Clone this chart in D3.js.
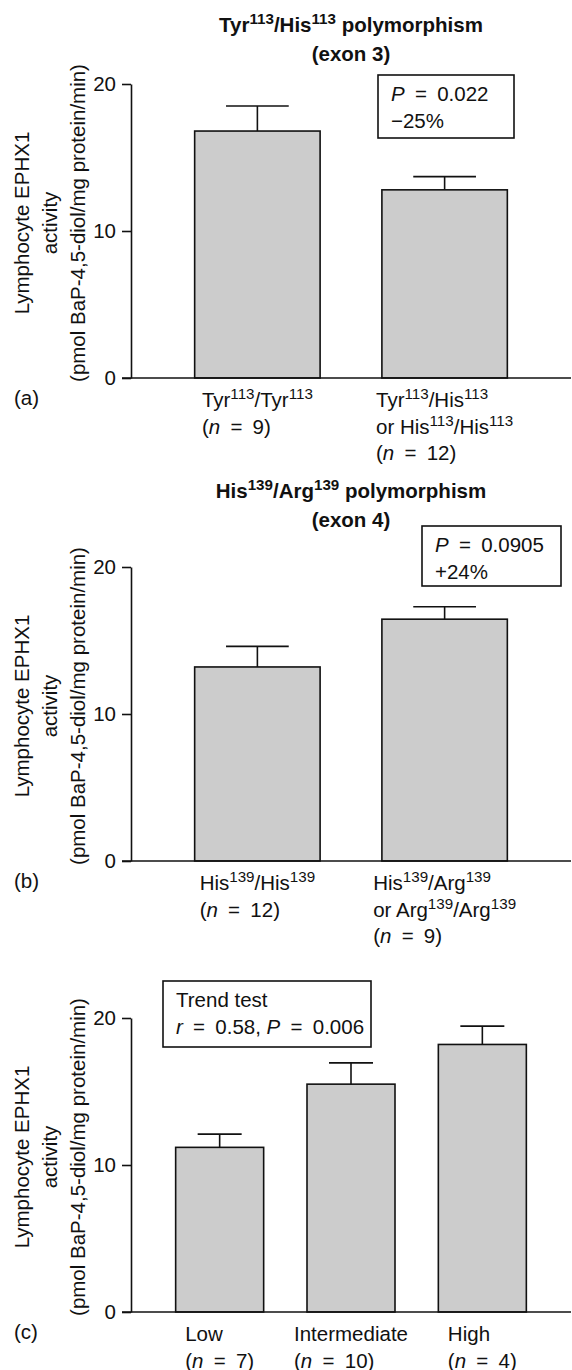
<!DOCTYPE html>
<html>
<head>
<meta charset="utf-8">
<script src="https://cdn.jsdelivr.net/npm/d3@7"></script>
<style>
  body { margin: 0; background: #fff; }
  svg { font-family: "Liberation Sans", Arial, Helvetica, sans-serif; }
</style>
</head>
<body>
<div id="chart"></div>
<script>
// ---- data ----
// markup: ^{..} superscript, *..* italic
const panelLetters = ['(a)', '(b)', '(c)'];

const titleA = ['Tyr^{113}/His^{113} polymorphism', '(exon 3)'];
const titleB = ['His^{139}/Arg^{139} polymorphism', '(exon 4)'];
const titleC = [];

const categoriesA = [
  ['Tyr^{113}/Tyr^{113}', '(*n* = 9)'],
  ['Tyr^{113}/His^{113}', 'or His^{113}/His^{113}', '(*n* = 12)']
];
const categoriesB = [
  ['His^{139}/His^{139}', '(*n* = 12)'],
  ['His^{139}/Arg^{139}', 'or Arg^{139}/Arg^{139}', '(*n* = 9)']
];
const categoriesC = [
  ['Low', '(*n* = 7)'],
  ['Intermediate', '(*n* = 10)'],
  ['High', '(*n* = 4)']
];

const meansA = [16.8, 12.8];
const errorsA = [1.7, 0.9];
const meansB = [13.2, 16.45];
const errorsB = [1.4, 0.85];
const meansC = [11.2, 15.5, 18.2];
const errorsC = [0.9, 1.45, 1.25];

const statsA = ['*P* = 0.022', '\u221225%'];
const statsB = ['*P* = 0.0905', '+24%'];
const statsC = ['Trend test', '*r* = 0.58, *P* = 0.006'];

const yTicks = [0, 10, 20];
const yDomain = [0, 20];
const yTitle = ['Lymphocyte EPHX1', 'activity', '(pmol BaP-4,5-diol/mg protein/min)'];

// ---- layout ----
const width = 572, height = 1370;
const fontSize = 20.5;
const supScale = 0.74;
const axisX = 131, axisEnd = 571;
const plotH = 294;

const panels = [
  {letter: panelLetters[0], title: titleA, cats: categoriesA, means: meansA, errs: errorsA, stats: statsA,
   top: 84, titleY: 32, box: {x: 378, y: 75, w: 136, h: 63}},
  {letter: panelLetters[1], title: titleB, cats: categoriesB, means: meansB, errs: errorsB, stats: statsB,
   top: 567, titleY: 498, box: {x: 422, y: 526, w: 139, h: 60}},
  {letter: panelLetters[2], title: titleC, cats: categoriesC, means: meansC, errs: errorsC, stats: statsC,
   top: 1018, titleY: 0, box: {x: 163, y: 981, w: 208, h: 66}}
];

const svg = d3.select('#chart').append('svg')
  .attr('width', width)
  .attr('height', height);

// writes a line of simple markup into a text element as tspans
function richLine(text, str, size) {
  str = str.replace(/ = /g, '\u2002=\u2002');
  const parts = str.split(/(\^\{[^}]*\}|\*[^*]+\*)/).filter(s => s.length);
  let shift = 0;
  parts.forEach(p => {
    const t = text.append('tspan');
    if (p.startsWith('^{')) {
      const up = size * 0.38;
      t.attr('dy', -up).style('font-size', (size * supScale) + 'px').text(p.slice(2, -1));
      shift += up;
    } else {
      if (shift) { t.attr('dy', shift); shift = 0; }
      if (p.startsWith('*')) t.style('font-style', 'italic').text(p.slice(1, -1));
      else t.text(p);
    }
  });
}

panels.forEach(p => {
  const g = svg.append('g').attr('transform', `translate(0,${p.top})`);

  const x = d3.scaleBand()
    .domain(d3.range(p.means.length))
    .range([axisX, axisEnd])
    .paddingInner(0.33)
    .paddingOuter(0.34);

  const y = d3.scaleLinear()
    .domain(yDomain)
    .range([plotH, 0]);

  // bars
  g.selectAll('.bar')
    .data(p.means)
    .join('rect')
    .attr('class', 'bar')
    .attr('x', (d, i) => x(i))
    .attr('y', d => y(d))
    .attr('width', x.bandwidth())
    .attr('height', d => y(0) - y(d))
    .attr('fill', '#cccccc')
    .attr('stroke', '#111')
    .attr('stroke-width', 1.6);

  // error bars (upper only)
  const eb = g.selectAll('.err')
    .data(p.means.map((m, i) => ({m, e: p.errs[i], i})))
    .join('g')
    .attr('class', 'err')
    .attr('stroke', '#111')
    .attr('stroke-width', 1.6);
  eb.append('line')
    .attr('x1', d => x(d.i) + x.bandwidth() / 2)
    .attr('x2', d => x(d.i) + x.bandwidth() / 2)
    .attr('y1', d => y(d.m))
    .attr('y2', d => y(d.m + d.e));
  eb.append('line')
    .attr('x1', d => x(d.i) + x.bandwidth() / 4)
    .attr('x2', d => x(d.i) + x.bandwidth() * 3 / 4)
    .attr('y1', d => y(d.m + d.e))
    .attr('y2', d => y(d.m + d.e));

  // y axis
  const yAxisG = g.append('g')
    .attr('transform', `translate(${axisX},0)`)
    .call(d3.axisLeft(y).tickValues(yTicks).tickSize(9).tickSizeOuter(0).tickPadding(6));
  yAxisG.select('.domain').attr('stroke', '#111').attr('stroke-width', 1.6);
  yAxisG.selectAll('.tick line').attr('stroke', '#111').attr('stroke-width', 1.6);
  yAxisG.selectAll('.tick text')
    .attr('fill', '#111')
    .style('font-size', fontSize + 'px')
    .style('font-family', '"Liberation Sans", Arial, sans-serif');

  // baseline
  g.append('line')
    .attr('x1', axisX - 9).attr('x2', axisEnd)
    .attr('y1', y(0)).attr('y2', y(0))
    .attr('stroke', '#111')
    .attr('stroke-width', 1.6);

  // y title
  const yt = g.append('g')
    .attr('transform', `translate(50,${plotH / 2 - 8}) rotate(-90)`);
  yTitle.forEach((line, i) => {
    yt.append('text')
      .attr('x', 0)
      .attr('y', (i - 1) * 28)
      .attr('dy', '0.35em')
      .attr('text-anchor', 'middle')
      .attr('fill', '#111')
      .style('font-size', fontSize + 'px')
      .text(line);
  });

  // category labels: left-aligned block centred on each bar
  p.cats.forEach((lines, i) => {
    const lg = g.append('g');
    lines.forEach((line, j) => {
      const t = lg.append('text')
        .attr('x', 0)
        .attr('y', y(0) + 29 + j * 26.5)
        .attr('fill', '#111')
        .style('font-size', fontSize + 'px');
      richLine(t, line, fontSize);
    });
    const bw = lg.node().getBBox().width;
    lg.attr('transform', `translate(${x(i) + x.bandwidth() / 2 - bw / 2},0)`);
  });

  // panel letter
  g.append('text')
    .attr('x', 14)
    .attr('y', y(0) + 27)
    .attr('fill', '#111')
    .style('font-size', fontSize + 'px')
    .text(p.letter);

  // title
  p.title.forEach((line, j) => {
    const t = svg.append('text')
      .attr('x', (axisX + axisEnd) / 2)
      .attr('y', p.titleY + j * 29)
      .attr('text-anchor', 'middle')
      .attr('fill', '#111')
      .style('font-size', fontSize + 'px')
      .style('font-weight', 'bold');
    richLine(t, line, fontSize);
  });

  // stats box
  svg.append('rect')
    .attr('x', p.box.x).attr('y', p.box.y)
    .attr('width', p.box.w).attr('height', p.box.h)
    .attr('fill', '#fff')
    .attr('stroke', '#111')
    .attr('stroke-width', 1.6);
  p.stats.forEach((line, j) => {
    const t = svg.append('text')
      .attr('x', p.box.x + 13)
      .attr('y', p.box.y + 26 + j * 26.5)
      .attr('fill', '#111')
      .style('font-size', fontSize + 'px');
    richLine(t, line, fontSize);
  });
});
</script>
</body>
</html>
